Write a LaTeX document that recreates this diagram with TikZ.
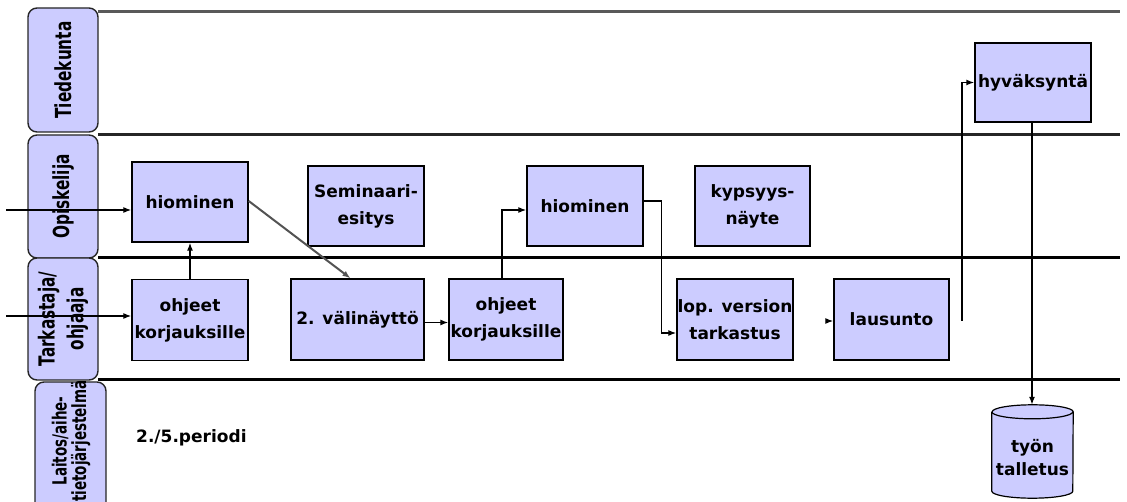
\documentclass[tikz,border=0pt]{standalone}
\usepackage{fontspec}
\setmainfont{DejaVu Sans}
\newfontfamily\lanefont{DejaVu Sans Condensed}
\usetikzlibrary{arrows.meta}
\definecolor{lav}{HTML}{CCCCFF}

\begin{document}
\begin{tikzpicture}[x=1pt,y=-1pt,
  stepbox/.style={draw=black, fill=lav, line width=1.4pt, inner sep=0pt,
    align=center, font=\fontsize{17}{27}\selectfont\bfseries},
  lanebox/.style={draw=black!85, fill=lav, line width=1.4pt, rounded corners=9pt, inner sep=0pt},
  lanetext/.style={rotate=90, yscale=1.3, align=center, inner sep=0pt,
    font=\lanefont\fontsize{17}{22}\selectfont\bfseries},
  lanerule/.style={line width=3pt},
  arr/.style={line width=1.2pt, -{Latex[length=8pt,width=6pt]}}
]
\useasboundingbox (0,0) rectangle (1127,502);
\clip (0,0) rectangle (1127,502);

% swimlane separators
\draw[lanerule, draw=gray!70!black] (98,12) -- (1120,12);
\draw[lanerule, draw=black!85] (98,135) -- (1120,135);
\draw[lanerule] (98,258) -- (1120,258);
\draw[lanerule] (98,380) -- (1120,380);

% lane headers
\node[lanebox, minimum width=70pt, minimum height=124pt] (lTie) at (63,70) {};
\node[lanetext] at (lTie.center) {Tiedekunta};
\node[lanebox, minimum width=70pt, minimum height=123pt] (lOpi) at (63,196.5) {};
\node[lanetext] at (lOpi.center) {Opiskelija};
\node[lanebox, minimum width=70pt, minimum height=122pt] (lTar) at (63,319) {};
\node[lanetext] at (lTar.center) {Tarkastaja/\\ohjaaja};
\node[lanebox, minimum width=71pt, minimum height=136pt] (lLai) at (70.5,450) {};
\node[lanetext, font=\lanefont\fontsize{15}{15}\selectfont\bfseries] at (71,441) {Laitos/aihe-\\tietojärjestelmä};

% process steps
\node[stepbox, minimum width=116pt, minimum height=80pt] (hiom1) at (190,202) {hiominen};
\node[stepbox, minimum width=116pt, minimum height=81pt] (ohj1) at (190,320) {ohjeet\\korjauksille};
\node[stepbox, minimum width=116pt, minimum height=80pt] (semi) at (366,206) {Seminaari-\\esitys};
\node[stepbox, minimum width=133pt, minimum height=81pt] (valin) at (357.5,319.5) {2. välinäyttö};
\node[stepbox, minimum width=114pt, minimum height=81pt] (ohj2) at (506,319.5) {ohjeet\\korjauksille};
\node[stepbox, minimum width=116pt, minimum height=80pt] (hiom2) at (585,206) {hiominen};
\node[stepbox, minimum width=115pt, minimum height=80pt] (kyps) at (752.5,206) {kypsyys-\\näyte};
\node[stepbox, minimum width=116pt, minimum height=81pt] (lop) at (735,319.5) {lop. version\\tarkastus};
\node[stepbox, minimum width=115pt, minimum height=81pt] (laus) at (891.5,319.5) {lausunto};
\node[stepbox, minimum width=116pt, minimum height=79pt] (hyv) at (1033,82.5) {hyväksyntä};

% storage cylinder
\node[inner sep=0pt, minimum width=81pt, minimum height=93pt] (store) at (1032.5,451.5) {};
\draw[fill=lav, line width=1.2pt]
  ([yshift=-7pt]store.north west) -- ([yshift=7pt]store.south west)
  arc[start angle=180, end angle=360, x radius=40.5pt, y radius=7pt]
  -- ([yshift=-7pt]store.north east)
  arc[start angle=0, end angle=180, x radius=40.5pt, y radius=7pt];
\draw[line width=1.2pt] ([yshift=-7pt]store.north west)
  arc[start angle=180, end angle=360, x radius=40.5pt, y radius=7pt];
\node[align=center, inner sep=0pt, font=\fontsize{17}{23}\selectfont\bfseries] at ([yshift=-6pt]store.center) {työn\\talletus};

\node[font=\fontsize{17}{20}\selectfont\bfseries, anchor=west, inner sep=0pt] (period) at (136,438) {2./5.periodi};

% connectors
\coordinate (in1) at (6,210);
\coordinate (in2) at (6,316);
\coordinate (lstub) at (826,321);
\coordinate (ustub) at (962,321);

\draw[arr] (in1) -- (hiom1.west |- in1);
\draw[arr] (in2) -- (ohj1.west |- in2);
\draw[arr] (ohj1.north) -- (hiom1.south);
\draw[arr, draw=gray!65!black, line width=2pt] ([yshift=1pt]hiom1.east) -- ([xshift=-7pt]valin.north);
\draw[arr] ([yshift=-3pt]valin.east) -- ([yshift=-3pt]ohj2.west);
\draw[arr] ([xshift=-4pt]ohj2.north) |- ([yshift=-4pt]hiom2.west);
\draw[arr] ([yshift=5pt]hiom2.east) -- ++(18,0) |- ([yshift=-13.5pt]lop.west);
\draw[arr] (lstub) -- (laus.west |- lstub);
\draw[arr, line width=1.5pt] (ustub) |- (hyv.west);
\draw[arr, line width=1.5pt] ([xshift=-1pt]hyv.south) -- ([xshift=-0.5pt]store.north);
\end{tikzpicture}
\end{document}
